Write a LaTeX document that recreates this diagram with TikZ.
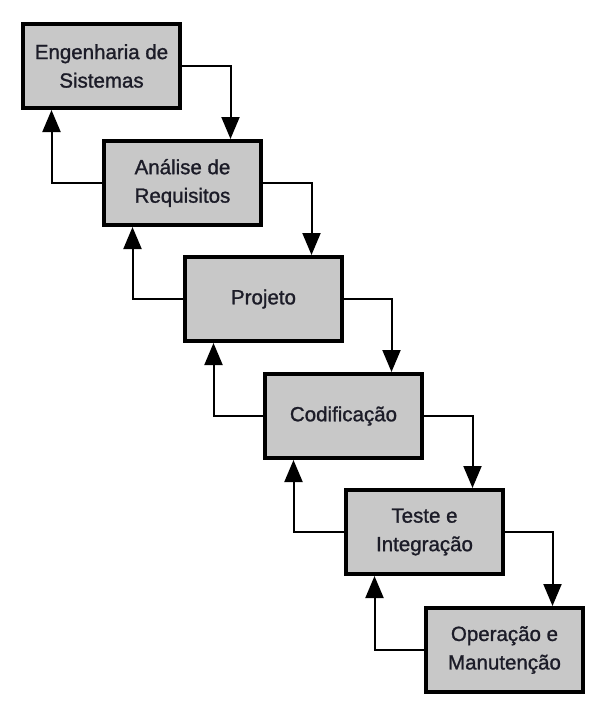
\documentclass[tikz,border=0pt]{standalone}
\usepackage{fontspec}
\setmainfont{Liberation Sans}
\newfontfamily\boxfont[FakeBold=1.2]{Liberation Sans}
\usetikzlibrary{arrows.meta}
\definecolor{boxfill}{RGB}{200,200,200}
\definecolor{txt}{RGB}{28,28,40}
\tikzset{
  phase/.style={draw=black, line width=4pt, fill=boxfill, minimum width=157pt, minimum height=84pt,
    inner sep=0pt, align=center, text=txt, font=\boxfont\fontsize{20.5}{28.5}\selectfont},
  flow/.style={line width=2pt, draw=black, -{Triangle[width=18pt,length=22pt]}}
}
\begin{document}
\begin{tikzpicture}[x=1pt,y=-1pt]
\useasboundingbox (0,0) rectangle (606,716);
\node[phase] (b1) at (101.5,66) {Engenharia de\\Sistemas};
\node[phase] (b2) at (182.5,183) {Análise de\\Requisitos};
\node[phase] (b3) at (263.5,299) {Projeto};
\node[phase] (b4) at (343.5,416) {Codificação};
\node[phase] (b5) at (424.5,532) {Teste e\\Integração};
\node[phase] (b6) at (504.5,650) {Operação e\\Manutenção};
\foreach \a/\b in {b1/b2,b2/b3,b3/b4,b4/b5,b5/b6}{
  \draw[flow] (\a.east) -| ([xshift=48pt]\b.north);
  \draw[flow] (\b.west) -| ([xshift=-50pt]\a.south);
}
\end{tikzpicture}
\end{document}
